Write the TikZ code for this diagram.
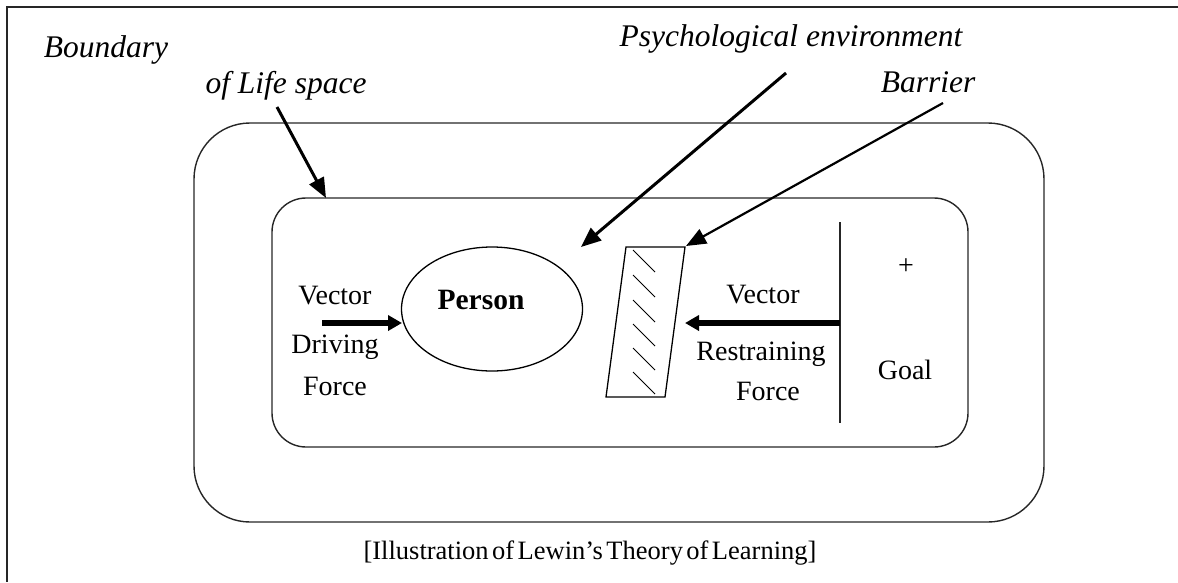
\documentclass[tikz,border=0pt]{standalone}
\usepackage{fontspec}
\setmainfont{Liberation Serif}
\usetikzlibrary{arrows.meta,shapes.geometric}
\tikzset{
  lbl/.style={inner sep=0pt,font=\fontsize{28}{30}\selectfont},
  ital/.style={inner sep=0pt,font=\fontsize{31.5}{34}\selectfont\itshape},
  pointer/.style={line width=3pt,-{Triangle[length=20pt,width=16pt]}},
  force/.style={line width=5.5pt,-{Triangle[length=14pt,width=15pt]}},
  edge/.style={line width=1.4pt,draw=black!85}
}
\begin{document}
\begin{tikzpicture}[x=1pt,y=-1pt]
 \useasboundingbox (0,0) rectangle (1178,582);
 % open frame
 \draw[edge] (1178,7) -- (7,7) -- (7,582);
 % life space and psychological environment
 \draw[edge,rounded corners=56pt] (194,123) rectangle (1044,522);
 \draw[edge,rounded corners=34pt] (272,198) rectangle (968,447);
 \draw[edge] (840,222) -- (840,423);
 % barrier with hatching
 \draw[line width=1.3pt] (626,247) -- (685,247) -- (665,397) -- (606,397) -- cycle;
 \foreach \y in {250,275,300,324,348,372}
  \draw[line width=1pt] (633,\y) -- ++(22,22);
 \node[draw,line width=1.3pt,ellipse,minimum width=181pt,minimum height=124pt,inner sep=0pt] (person) at (492,309) {};
 \node[inner sep=0pt,font=\fontsize{29.5}{31}\selectfont\bfseries] (pname) at (481,300) {Person};
 % labels
 \node[ital] (bound) at (106,50) {Boundary};
 \node[ital] (lifesp) at (286,86) {of Life space};
 \node[ital] (psych) at (791,39) {Psychological environment};
 \node[ital] (barrier) at (928,82) {Barrier};
 \node[lbl] (vecl) at (335,296) {Vector};
 \node[lbl] (drive) at (335,347) {Driving};
 \node[lbl] (forcel) at (335,386) {Force};
 \node[lbl] (vecr) at (763,295) {Vector};
 \node[lbl] (restr) at (761,354) {Restraining};
 \node[lbl] (forcer) at (768,391) {Force};
 \node[lbl] (plus) at (906,267) {+};
 \node[lbl] (goal) at (905,370) {Goal};
 \node[inner sep=0pt,font=\fontsize{26.5}{28}\selectfont] (caption) at (590,553) {\spaceskip=0.13em\relax[Illustration of Lewin's Theory of Learning]};
 % arrows
 \coordinate (lifetail) at (277,107);
 \coordinate (lifetip) at (326,198);
 \coordinate (psytail) at (786,73);
 \coordinate (psytip) at (581,247);
 \coordinate (bartail) at (943,103);
 \coordinate (bartip) at (686,246);
 \coordinate (drvtail) at (322,323);
 \coordinate (drvtip) at (402,323);
 \coordinate (rsttail) at (840,323);
 \coordinate (rsttip) at (685,323);
 \draw[pointer] (lifetail) -- (lifetip);
 \draw[pointer] (psytail) -- (psytip);
 \draw[pointer,line width=2.2pt] (bartail) -- (bartip);
 \draw[force] (drvtail) -- (drvtip);
 \draw[force] (rsttail) -- (rsttip);
\end{tikzpicture}
\end{document}
